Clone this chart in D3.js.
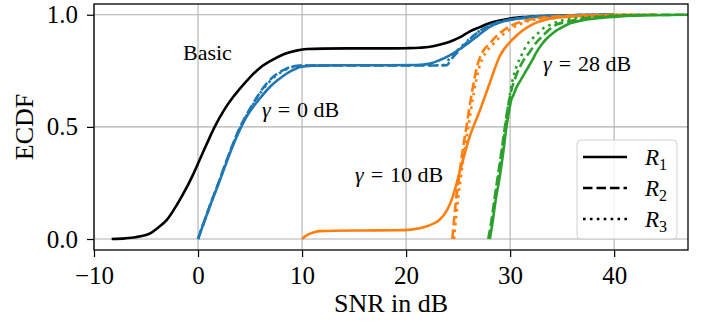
<!DOCTYPE html>
<html>
<head>
<meta charset="utf-8">
<script src="https://cdn.jsdelivr.net/npm/d3@7"></script>
<style>
  body { margin: 0; background: #fff; }
</style>
</head>
<body>
<div class="viz"></div>
<script>
'use strict'

const width = 702,
  height = 325;
const margin = {top: 4, right: 14, bottom: 75, left: 94};
const line_width = 2.6;
const serif = "'Liberation Serif', 'DejaVu Serif', serif";

const x_ticks = [-10, 0, 10, 20, 30, 40];
const y_ticks = [0, 0.5, 1.0];

// ECDF points, [SNR in dB, ECDF]
const basic_r1 = [[-8.3,0],[-7,0.003],[-6,0.008],[-5,0.018],[-4.6,0.025],[-4,0.045],[-3,0.085],
  [-2,0.155],[-1.44,0.2],[-0.5,0.285],[0,0.337],[0.8,0.42],[1.6,0.5],[2.5,0.575],[3.37,0.633],
  [4.2,0.68],[4.97,0.72],[6,0.765],[7.2,0.8],[8.3,0.825],[9.46,0.84],[10.5,0.847],[12,0.849],
  [15,0.85],[18,0.85],[20,0.851],[21.3,0.853],[22.3,0.857],[23.2,0.866],[24.2,0.88],[25.2,0.9],
  [26.1,0.925],[27.1,0.945],[28,0.962],[29,0.974],[30,0.983],[31.5,0.99],[33,0.994],[35,0.997],
  [38,0.999],[40,1]];

const g0_r1 = [[0,0],[0.5,0.065],[1.12,0.144],[2,0.25],[2.7,0.337],[3.3,0.41],[4,0.485],[4.6,0.54],
  [5.3,0.589],[6,0.63],[6.9,0.678],[7.7,0.71],[8.5,0.737],[9.2,0.755],[9.8,0.767],[11,0.773],
  [14,0.775],[18,0.775],[21,0.776],[22.3,0.782],[23.2,0.797],[24.2,0.819],[25.1,0.845],
  [26.1,0.878],[27,0.91],[28,0.945],[29,0.965],[30,0.977],[31.5,0.987],[33,0.993],[35,0.997],
  [38,0.999],[40,1]];
const g0_r2 = [[0,0],[0.5,0.066],[1.12,0.146],[2,0.255],[2.7,0.345],[4,0.495],[5.3,0.605],
  [6.2,0.67],[7.4,0.73],[8.5,0.76],[9.5,0.772],[11,0.774],[15,0.774],[20,0.774],[23,0.774],
  [23.9,0.775],[24.3,0.8],[24.8,0.826],[25.5,0.86],[26.1,0.89],[27,0.925],[28,0.952],[29,0.968],
  [30,0.978],[31.5,0.988],[33,0.994],[35,0.997],[38,0.999],[40,1]];
const g0_r3 = [[0,0],[0.5,0.066],[1.12,0.145],[2,0.253],[2.7,0.342],[4,0.49],[5.3,0.6],
  [6.2,0.665],[7.4,0.725],[8.5,0.757],[9.5,0.771],[11,0.774],[15,0.775],[20,0.775],[23,0.775],
  [23.7,0.776],[24.1,0.8],[24.7,0.83],[25.4,0.862],[26.1,0.892],[27,0.926],[28,0.953],[29,0.969],
  [30,0.979],[31.5,0.988],[33,0.994],[35,0.997],[38,0.999],[40,1]];

const g10_r1 = [[10,0],[10.5,0.018],[11,0.028],[11.7,0.035],[13,0.037],[16,0.038],[19,0.039],
  [20.5,0.042],[21.3,0.048],[22.3,0.062],[23.2,0.085],[23.9,0.125],[24.5,0.19],[25.2,0.307],
  [26.1,0.455],[27.1,0.574],[28,0.69],[29,0.815],[30.3,0.893],[31.2,0.93],[32.2,0.958],
  [33.8,0.982],[35.5,0.991],[38,0.997],[41,0.999],[44,1]];
const g10_r2 = [[24.45,0],[24.6,0.08],[24.8,0.174],[25.05,0.26],[25.3,0.35],[25.55,0.43],
  [25.8,0.5],[26.05,0.575],[26.3,0.645],[26.55,0.71],[26.8,0.765],[27.1,0.81],[27.5,0.845],
  [28,0.87],[28.8,0.91],[29.65,0.939],[30.5,0.96],[31.6,0.976],[33,0.987],[35,0.994],[38,0.998],
  [42,1]];
const g10_r3 = [[24.6,0],[24.8,0.09],[25,0.18],[25.25,0.27],[25.5,0.355],[25.75,0.435],[26,0.505],
  [26.25,0.58],[26.5,0.65],[26.75,0.71],[27,0.76],[27.35,0.805],[27.8,0.84],[28.3,0.865],
  [29,0.9],[29.9,0.932],[30.8,0.955],[31.9,0.973],[33.3,0.985],[35,0.993],[38,0.998],[42,1]];

const g28_r1 = [[28.05,0],[28.3,0.07],[28.6,0.17],[29,0.277],[29.35,0.39],[29.65,0.5],[29.9,0.57],
  [30.1,0.619],[30.3,0.64],[30.6,0.675],[31.1,0.715],[31.6,0.755],[32.1,0.795],[32.5,0.83],
  [33,0.865],[33.5,0.893],[34.1,0.918],[34.8,0.939],[35.7,0.961],[37,0.976],[38.6,0.986],
  [40.5,0.993],[43.4,0.998],[47.5,1]];
const g28_r2 = [[27.9,0],[28.2,0.08],[28.5,0.18],[28.85,0.29],[29.2,0.4],[29.5,0.5],[29.8,0.59],
  [30.1,0.66],[30.6,0.731],[31.2,0.79],[31.9,0.835],[32.5,0.875],[33.2,0.909],[33.8,0.935],
  [34.4,0.955],[35.4,0.968],[36.5,0.98],[38,0.988],[40,0.995],[43,0.999],[47.5,1]];
const g28_r3 = [[28,0],[28.3,0.09],[28.6,0.19],[28.95,0.3],[29.3,0.41],[29.6,0.52],[29.9,0.62],
  [30.2,0.7],[30.6,0.767],[31.1,0.82],[31.6,0.865],[32.5,0.909],[33.2,0.94],[33.8,0.954],
  [35.1,0.976],[36.5,0.986],[38.5,0.993],[41,0.998],[44,1]];

const dash = {r1: null, r2: '9.5,4', r3: '2.6,4.3'};
const curves = [
  {values: basic_r1, color: '#000000', style: 'r1'},
  {values: g0_r3, color: '#1f77b4', style: 'r3'},
  {values: g0_r2, color: '#1f77b4', style: 'r2'},
  {values: g0_r1, color: '#1f77b4', style: 'r1'},
  {values: g10_r3, color: '#ff7f0e', style: 'r3'},
  {values: g10_r2, color: '#ff7f0e', style: 'r2'},
  {values: g10_r1, color: '#ff7f0e', style: 'r1'},
  {values: g28_r3, color: '#2ca02c', style: 'r3'},
  {values: g28_r2, color: '#2ca02c', style: 'r2'},
  {values: g28_r1, color: '#2ca02c', style: 'r1'},
];

const legend_items = [
  {style: 'r1', sub: '1'},
  {style: 'r2', sub: '2'},
  {style: 'r3', sub: '3'},
];

let svg = d3.select('.viz')
  .append('svg')
  .attr('width', width)
  .attr('height', height)
  .style('font-family', serif);

let x = d3.scaleLinear()
  .domain([-10, 47.1])
  .range([margin.left, width - margin.right]);
let y = d3.scaleLinear()
  .domain([-0.049, 1.048])
  .range([height - margin.bottom, margin.top]);

svg.append('clipPath')
  .attr('id', 'clip')
  .append('rect')
  .attr('x', margin.left)
  .attr('y', margin.top)
  .attr('width', width - margin.left - margin.right)
  .attr('height', height - margin.top - margin.bottom);

// grid
let grid = svg.append('g')
  .style('stroke', '#b0b0b0')
  .style('stroke-width', 1.1);
grid.selectAll('.gx')
  .data(x_ticks)
  .join('line')
  .attr('x1', d => x(d)).attr('x2', d => x(d))
  .attr('y1', margin.top).attr('y2', height - margin.bottom);
grid.selectAll('.gy')
  .data(y_ticks)
  .join('line')
  .attr('y1', d => y(d)).attr('y2', d => y(d))
  .attr('x1', margin.left).attr('x2', width - margin.right);

// curves
let line = d3.line()
  .x(d => x(d[0]))
  .y(d => y(d[1]))
  .curve(d3.curveMonotoneX);
svg.append('g')
  .attr('clip-path', 'url(#clip)')
  .attr('fill', 'none')
  .selectAll('path')
  .data(curves)
  .join('path')
  .attr('d', d => line(d.values))
  .attr('stroke', d => d.color)
  .attr('stroke-width', line_width)
  .attr('stroke-dasharray', d => dash[d.style]);

// axes
let x_axis = svg.append('g')
  .attr('transform', `translate(0,${height - margin.bottom})`)
  .call(d3.axisBottom(x).tickValues(x_ticks).tickSize(7).tickPadding(9).tickFormat(d3.format('d')));
let y_axis = svg.append('g')
  .attr('transform', `translate(${margin.left},0)`)
  .call(d3.axisLeft(y).tickValues(y_ticks).tickSize(7).tickPadding(9).tickFormat(d3.format('.1f')));
[x_axis, y_axis].forEach(a => {
  a.attr('font-family', null).attr('font-size', null);
  a.select('.domain').remove();
  a.selectAll('line').attr('stroke', '#000').attr('stroke-width', 1.2);
  a.selectAll('text')
    .attr('fill', '#000')
    .style('font-size', '25px')
    .style('font-family', serif);
});

// frame
svg.append('rect')
  .attr('x', margin.left)
  .attr('y', margin.top)
  .attr('width', width - margin.left - margin.right)
  .attr('height', height - margin.top - margin.bottom)
  .attr('fill', 'none')
  .attr('stroke', '#000')
  .attr('stroke-width', 1.3);

// axis labels
svg.append('text')
  .attr('x', (margin.left + width - margin.right) / 2)
  .attr('y', 312)
  .attr('text-anchor', 'middle')
  .style('font-family', serif)
  .style('font-size', '26px')
  .text('SNR in dB');
svg.append('text')
  .attr('transform', `translate(33,${(margin.top + height - margin.bottom) / 2}) rotate(-90)`)
  .attr('text-anchor', 'middle')
  .style('font-family', serif)
  .style('font-size', '26px')
  .text('ECDF');

// annotations
function gamma_label(px, py, value) {
  let t = svg.append('text')
    .attr('x', px)
    .attr('y', py)
    .style('font-family', serif)
    .style('font-size', '22px');
  t.append('tspan').style('font-style', 'italic').text('γ');
  t.append('tspan').attr('dx', 7).text('=');
  t.append('tspan').attr('dx', 7).text(`${value} dB`);
}
svg.append('text')
  .attr('x', 183)
  .attr('y', 60)
  .style('font-family', serif)
  .style('font-size', '22px')
  .text('Basic');
gamma_label(262, 117, 0);
gamma_label(355, 182, 10);
gamma_label(543, 71, 28);

// legend
let legend = svg.append('g');
legend.append('rect')
  .attr('x', 577)
  .attr('y', 140)
  .attr('width', 100)
  .attr('height', 99)
  .attr('rx', 4)
  .attr('fill', 'white')
  .attr('fill-opacity', 0.8)
  .attr('stroke', '#d0d0d0')
  .attr('stroke-width', 1);
let entries = legend.selectAll('g')
  .data(legend_items)
  .join('g')
  .attr('transform', (d, i) => `translate(0,${157 + i * 31})`);
entries.append('line')
  .attr('x1', 583).attr('x2', 627)
  .attr('stroke', '#000')
  .attr('stroke-width', line_width)
  .attr('stroke-dasharray', d => dash[d.style]);
let lt = entries.append('text')
  .attr('x', 645)
  .attr('y', 8)
  .style('font-family', serif)
  .style('font-size', '23px');
lt.append('tspan').style('font-style', 'italic').text('R');
lt.append('tspan').attr('dy', 5).style('font-size', '16px').text(d => d.sub);
</script>
</body>
</html>
